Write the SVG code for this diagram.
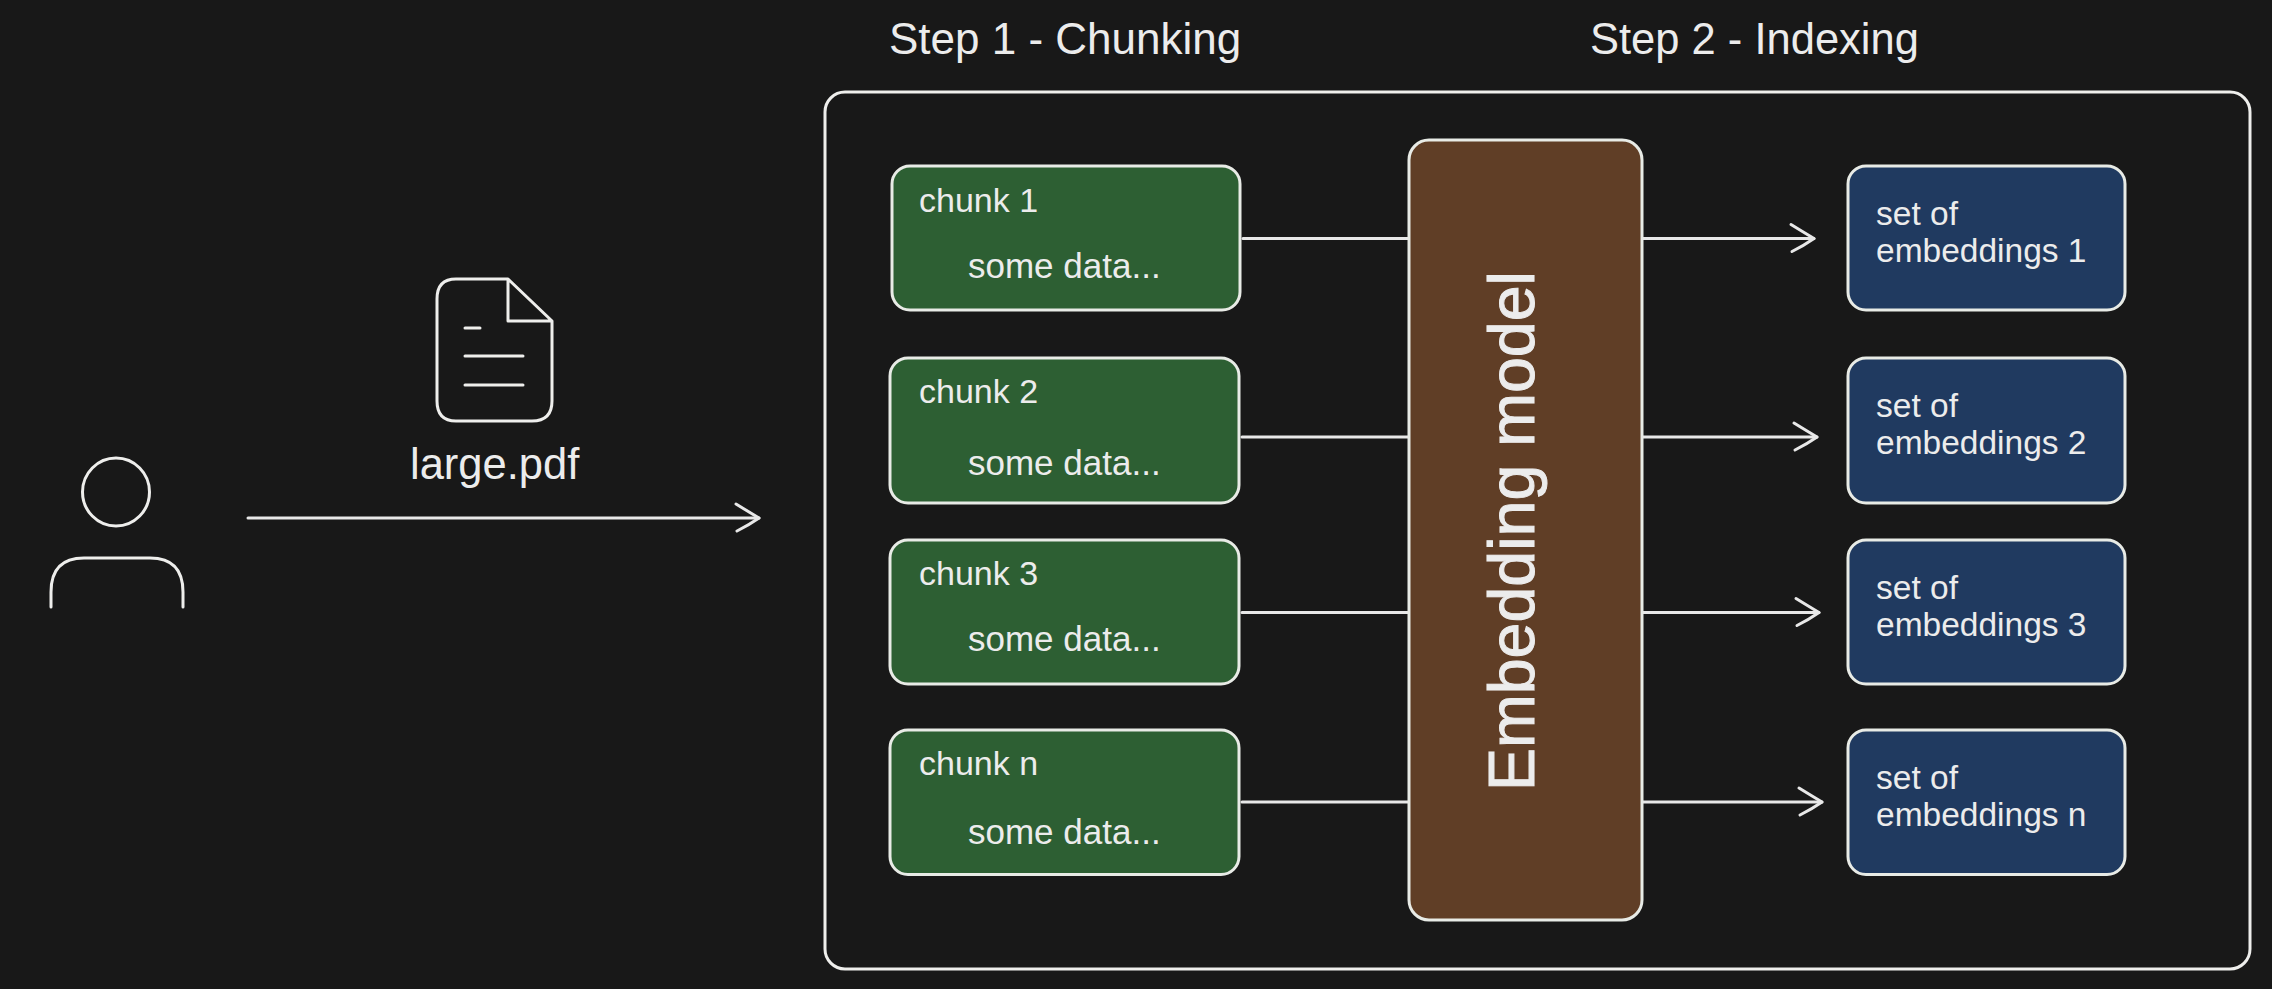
<svg xmlns="http://www.w3.org/2000/svg" width="2272" height="989" viewBox="0 0 2272 989">
<style>
text{font-family:"Liberation Sans",Arial,sans-serif;fill:#ececec}
.s{fill:none;stroke:#eeeeec;stroke-width:3;stroke-linecap:round;stroke-linejoin:round}
.g{fill:#2d5f33;stroke:#e8ebe6;stroke-width:3}
.b{fill:#203a60;stroke:#e8ebe6;stroke-width:3}
.c{stroke:#e8e8e8;stroke-width:3;fill:none;stroke-linecap:round}
.t{font-size:44px}.p{font-size:43.5px}.m{font-size:34px}.d{font-size:35px}.e{font-size:33.5px}
</style>
<defs><marker id="ah" markerUnits="userSpaceOnUse" markerWidth="40" markerHeight="40" refX="30" refY="20" orient="auto" overflow="visible"><path d="M7 6 Q20 14 30 20 Q20 27 8 33" fill="none" stroke="#e8e8e8" stroke-width="3" stroke-linecap="round" stroke-linejoin="round"/></marker></defs>
<rect width="2272" height="989" fill="#181818"/>
<text id="step1" class="t" x="889" y="53.500">Step 1 - Chunking</text>
<text id="step2" class="p" x="1590" y="53.500">Step 2 - Indexing</text>
<g id="person"><ellipse class="s" cx="116" cy="492" rx="33.500" ry="34"/><path class="s" d="M51 607V592Q51 558 84 558H150Q183 558 183 592V607"/></g>
<g id="doc"><path class="s" d="M508 279H456Q437 279 437 299V401Q437 421 456 421H532Q552 421 552 401V321L508 279V321H552"/><path class="s" d="M465 328H480M465 356H523M465 385H523"/><text class="p" x="410" y="479">large.pdf</text></g>
<rect id="container" class="s" x="825" y="92" width="1425" height="877" rx="20"/>
<g id="connectors">
<path class="c" marker-end="url(#ah)" d="M248 518H759"/>
<path class="c" d="M1243 238.500H1408M1242 437H1408M1242 612.500H1408M1242 802H1408"/>
<path class="c" marker-end="url(#ah)" d="M1642 238.500H1814"/>
<path class="c" marker-end="url(#ah)" d="M1642 437H1817"/>
<path class="c" marker-end="url(#ah)" d="M1642 612.500H1819"/>
<path class="c" marker-end="url(#ah)" d="M1642 802H1822"/>
</g>
<g id="chunk1"><rect class="g" x="892" y="166" width="348" height="144" rx="18"/><text class="m" x="919" y="212">chunk 1</text><text class="d" x="968" y="278">some data...</text></g>
<g id="chunk2"><rect class="g" x="890" y="358" width="349" height="145" rx="18"/><text class="m" x="919" y="403">chunk 2</text><text class="d" x="968" y="475">some data...</text></g>
<g id="chunk3"><rect class="g" x="890" y="540" width="349" height="144" rx="18"/><text class="m" x="919" y="585">chunk 3</text><text class="d" x="968" y="651">some data...</text></g>
<g id="chunkn"><rect class="g" x="890" y="730" width="349" height="144.500" rx="18"/><text class="m" x="919" y="775">chunk n</text><text class="d" x="968" y="844">some data...</text></g>
<g id="embedding"><rect x="1409" y="140" width="233" height="780" rx="20" fill="#603e26" stroke="#e8ebe6" stroke-width="3"/><text transform="translate(1534 791) rotate(-90)" font-size="64.500" stroke="#ececec" stroke-width="1">Embedding model</text></g>
<g id="emb1"><rect class="b" x="1848" y="166" width="277" height="144" rx="18"/><text class="e" x="1876" y="225">set of</text><text class="e" x="1876" y="262">embeddings 1</text></g>
<g id="emb2"><rect class="b" x="1848" y="358" width="277" height="145" rx="18"/><text class="e" x="1876" y="417">set of</text><text class="e" x="1876" y="454">embeddings 2</text></g>
<g id="emb3"><rect class="b" x="1848" y="540" width="277" height="144" rx="18"/><text class="e" x="1876" y="599">set of</text><text class="e" x="1876" y="636">embeddings 3</text></g>
<g id="embn"><rect class="b" x="1848" y="730" width="277" height="144.500" rx="18"/><text class="e" x="1876" y="789">set of</text><text class="e" x="1876" y="826">embeddings n</text></g>
</svg>
